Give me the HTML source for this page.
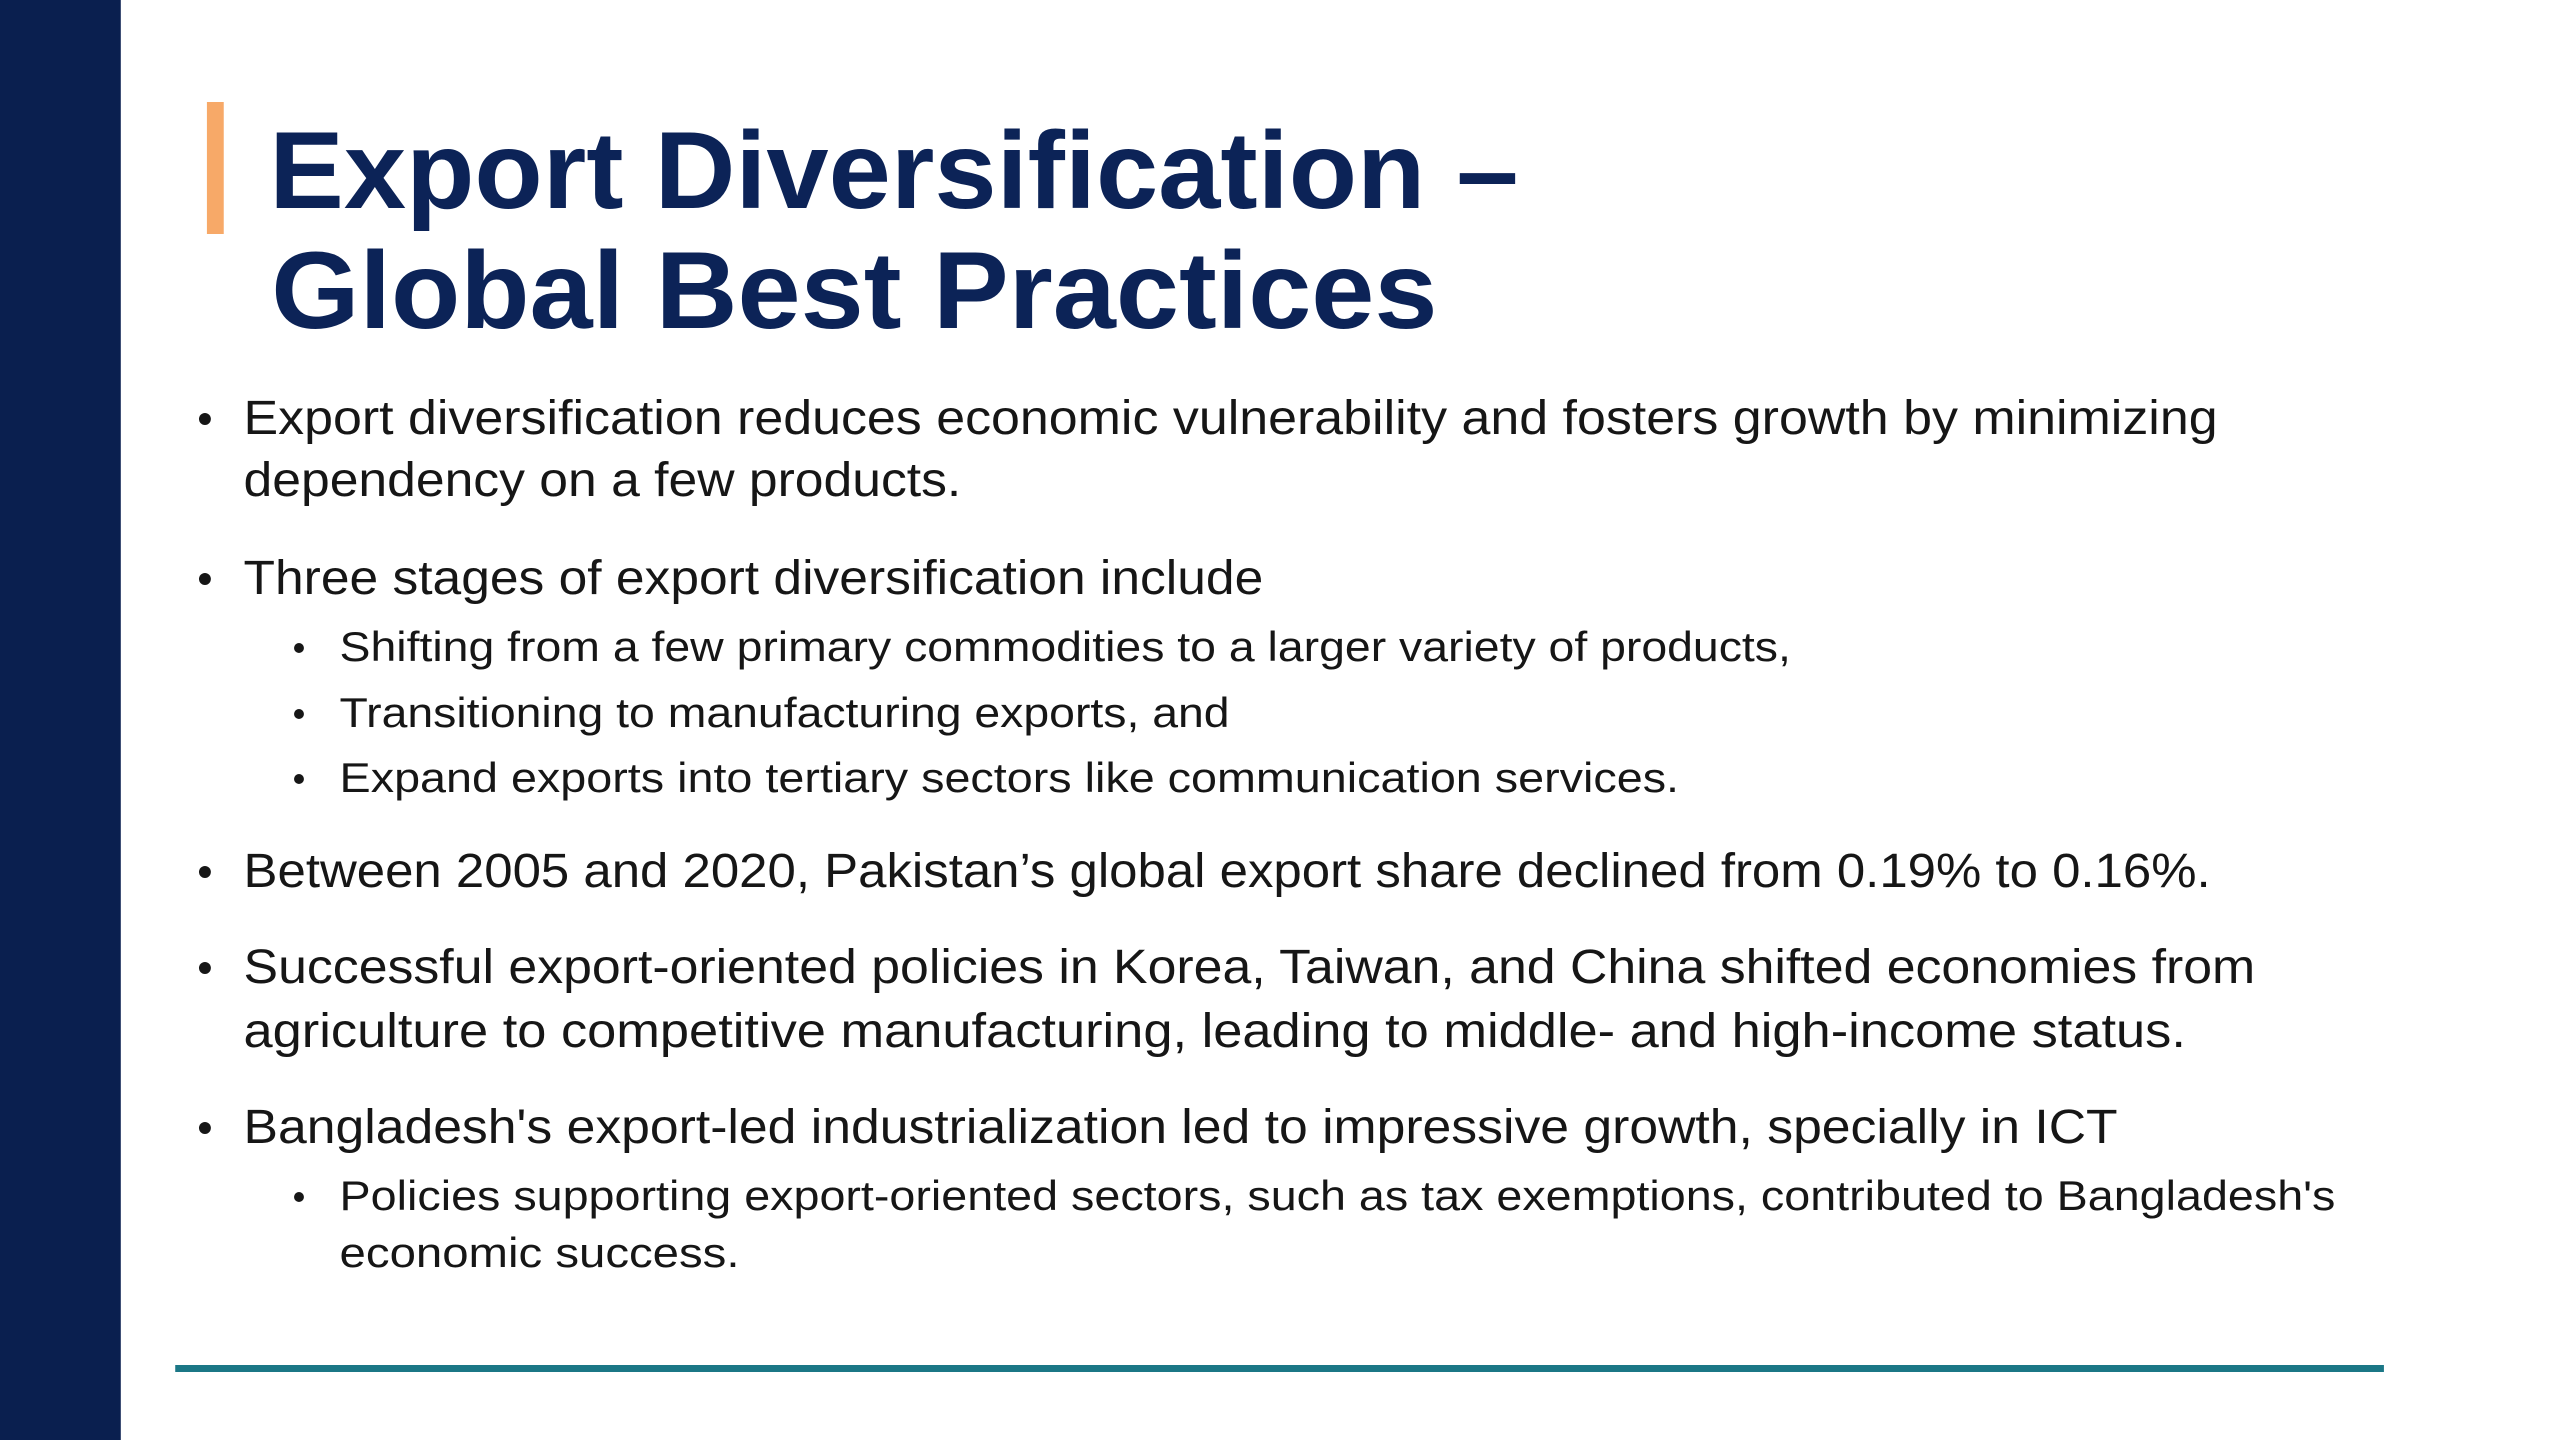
<!DOCTYPE html>
<html><head><meta charset="utf-8"><style>
html,body{margin:0;padding:0;background:#fff;width:2560px;height:1440px;overflow:hidden}
svg{display:block}
.t{font-family:"Liberation Sans",sans-serif;font-weight:bold;fill:#0c2357;font-size:110px}
.b{font-family:"Liberation Sans",sans-serif;fill:#161616;font-size:48px}
.s{font-family:"Liberation Sans",sans-serif;fill:#161616;font-size:42px}
</style></head><body>
<svg width="2560" height="1440" viewBox="0 0 2560 1440">
<g transform="scale(0.99 1)">
<rect x="0" y="0" width="122" height="1440" fill="#0a1f4f"/>
<rect x="209" y="102" width="17" height="132" fill="#f7a968"/>
<text class="t" x="272" y="208" textLength="1262" lengthAdjust="spacingAndGlyphs">Export Diversification –</text>
<text class="t" x="274" y="328" textLength="1178" lengthAdjust="spacingAndGlyphs">Global Best Practices</text>

<g>
<circle cx="207" cy="419" r="6" fill="#161616"/>
<text class="b" x="246" y="434" textLength="1994" lengthAdjust="spacingAndGlyphs">Export diversification reduces economic vulnerability and fosters growth by minimizing</text>
<text class="b" x="246" y="496" textLength="725" lengthAdjust="spacingAndGlyphs">dependency on a few products.</text>
</g>
<g>
<circle cx="207" cy="579" r="6" fill="#161616"/>
<text class="b" x="246" y="594" textLength="1030" lengthAdjust="spacingAndGlyphs">Three stages of export diversification include</text>
</g>
<g>
<circle cx="302" cy="648" r="5" fill="#161616"/>
<text class="s" x="343" y="661" textLength="1466" lengthAdjust="spacingAndGlyphs">Shifting from a few primary commodities to a larger variety of products,</text>
<circle cx="302" cy="714" r="5" fill="#161616"/>
<text class="s" x="343" y="727" textLength="899" lengthAdjust="spacingAndGlyphs">Transitioning to manufacturing exports, and</text>
<circle cx="302" cy="779" r="5" fill="#161616"/>
<text class="s" x="343" y="792" textLength="1353" lengthAdjust="spacingAndGlyphs">Expand exports into tertiary sectors like communication services.</text>
</g>
<g>
<circle cx="207" cy="872" r="6" fill="#161616"/>
<text class="b" x="246" y="887" textLength="1987" lengthAdjust="spacingAndGlyphs">Between 2005 and 2020, Pakistan’s global export share declined from 0.19% to 0.16%.</text>
</g>
<g>
<circle cx="207" cy="968" r="6" fill="#161616"/>
<text class="b" x="246" y="983" textLength="2032" lengthAdjust="spacingAndGlyphs">Successful export-oriented policies in Korea, Taiwan, and China shifted economies from</text>
<text class="b" x="246" y="1047" textLength="1962" lengthAdjust="spacingAndGlyphs">agriculture to competitive manufacturing, leading to middle- and high-income status.</text>
</g>
<g>
<circle cx="207" cy="1128" r="6" fill="#161616"/>
<text class="b" x="246" y="1143" textLength="1893" lengthAdjust="spacingAndGlyphs">Bangladesh's export-led industrialization led to impressive growth, specially in ICT</text>
<circle cx="302" cy="1197" r="5" fill="#161616"/>
<text class="s" x="343" y="1210" textLength="2016" lengthAdjust="spacingAndGlyphs">Policies supporting export-oriented sectors, such as tax exemptions, contributed to Bangladesh's</text>
<text class="s" x="343" y="1267" textLength="404" lengthAdjust="spacingAndGlyphs">economic success.</text>
</g>
<rect x="177" y="1365" width="2231" height="7" fill="#1b7786"/>
</g>
</svg>
</body></html>
